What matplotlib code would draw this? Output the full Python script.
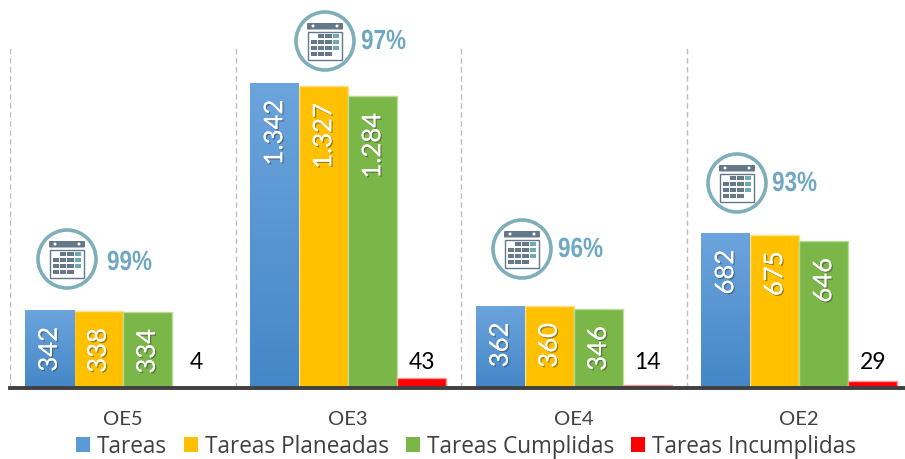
import matplotlib
matplotlib.use("Agg")
import matplotlib.pyplot as plt
import matplotlib.patheffects as pe
from matplotlib.patches import Circle, Rectangle, FancyBboxPatch
from matplotlib.transforms import Affine2D
import numpy as np

categories = ["OE5", "OE3", "OE4", "OE2"]
tareas = [342, 1342, 362, 682]
planeadas = [338, 1327, 360, 675]
cumplidas = [334, 1284, 346, 646]
incumplidas = [4, 43, 14, 29]
percent = ["99%", "97%", "96%", "93%"]
series_names = ["Tareas", "Tareas Planeadas", "Tareas Cumplidas", "Tareas Incumplidas"]
colors = ["#5B9BD5", "#FFC000", "#7AB648", "#FF0000"]

W, H = 905, 460
fig = plt.figure(figsize=(W / 100, H / 100), dpi=100)
L, R, T, B = 10, 905, 48, 389
ax = fig.add_axes([L / W, 1 - B / H, (R - L) / W, (B - T) / H])
group = 225.5
ax.set_xlim(-0.5, -0.5 + (R - L) / group)
ax.set_ylim(0, (B - T) / 0.2273)
x = np.arange(len(categories))
bw = 49 / group

def fmt(v):
    return f"{v:,}".replace(",", ".")

all_series = [tareas, planeadas, cumplidas, incumplidas]
for i, (vals, c) in enumerate(zip(all_series, colors)):
    pos = x + (i - 1.5) * bw
    if i == 0:
        for p, v in zip(pos, vals):
            bar = ax.bar(p, v, bw, color=c, zorder=2)[0]
            grad = np.linspace(0, 1, 128).reshape(-1, 1)
            cmap = matplotlib.colors.LinearSegmentedColormap.from_list("b", ["#4487C7", "#6CA4DD"])
            im = ax.imshow(grad, extent=(p - bw / 2, p + bw / 2, 0, v), origin="lower",
                           aspect="auto", cmap=cmap, zorder=3)
            im.set_clip_path(bar)
    else:
        edge = {1: "#FFE08A", 2: "#B9DA9B", 3: "#FF9A9A"}[i]
        ax.bar(pos, vals, bw, color=c, edgecolor=edge, linewidth=1, zorder=2)
    for p, v in zip(pos, vals):
        if i < 3:
            ax.annotate(fmt(v), (p, v), xytext=(0, -12), textcoords="offset points",
                        rotation=90, ha="center", va="top", color="white", fontsize=18.5,
                        family="Lato", zorder=5,
                        path_effects=[pe.withSimplePatchShadow(offset=(1, -1), shadow_rgbFace="#333333", alpha=0.45), pe.Normal()])
        else:
            ax.annotate(fmt(v), (p, 0), xytext=(0, 19), textcoords="offset points",
                        ha="center", va="center", color="black", fontsize=16.5, family="Lato", zorder=5)

ax.set_xticks(x)
ax.set_xticklabels(categories, fontsize=14.5, color="#404040", family="Lato")
ax.tick_params(axis="x", length=0, pad=16)
ax.set_yticks([])
for k in range(len(categories)):
    ax.axvline(k - 0.5, color="#BDBDBD", lw=1, ls=(0, (4, 2.5)), zorder=1)
for s in ["top", "left", "right"]:
    ax.spines[s].set_visible(False)
ax.spines["bottom"].set_color("#404040")
ax.spines["bottom"].set_linewidth(2.8)
ax.spines["bottom"].set_zorder(6)

# Calendar badges, on a pixel overlay
ov = fig.add_axes([0, 0, 1, 1], zorder=10)
ov.set_xlim(0, W)
ov.set_ylim(H, 0)
ov.axis("off")
ov.patch.set_alpha(0)
badges = [(67, 260, 40, 264), (325, 42, 36, 43), (522, 250, 36, 251), (737, 184, 35, 185)]
ring = "#7FAEBB"
slate = "#64788A"
teal = "#6FA9B4"


class Squeeze(pe.AbstractPathEffect):
    """Narrows glyph outlines horizontally about an anchor (condensed type)."""
    def __init__(self, x0, sx):
        super().__init__()
        self.x0, self.sx = x0, sx

    def draw_path(self, renderer, gc, tpath, affine, rgbFace=None):
        t = affine + Affine2D().translate(-self.x0, 0).scale(self.sx, 1).translate(self.x0, 0)
        renderer.draw_path(gc, tpath, t, rgbFace)


def calendar(cx, cy):
    ov.add_patch(Circle((cx, cy), 29, fc="white", ec=ring, lw=2.6))
    ov.add_patch(FancyBboxPatch((cx - 18, cy - 18), 36, 6.5, boxstyle="round,pad=0,rounding_size=1", fc=slate, ec="none"))
    ov.add_patch(Circle((cx - 12, cy - 15), 1.5, fc="white", ec="none"))
    ov.add_patch(Circle((cx + 12, cy - 15), 1.5, fc="white", ec="none"))
    ov.add_patch(Rectangle((cx - 17, cy - 9.5), 34, 28.5, fc="white", ec=slate, lw=1))
    cw, ch, stepx, stepy = 6.4, 4.2, 7.4, 6.0
    for r in range(4):
        for col in range(4):
            if (r == 0 and col == 0) or (r == 3 and col == 3):
                continue
            c = teal if col == 3 else slate
            ov.add_patch(Rectangle((cx - 14.5 + col * stepx, cy - 7.5 + r * stepy), cw, ch, fc=c, ec="none"))


for (cx, cy, dx, ty), txt in zip(badges, percent):
    calendar(cx, cy)
    x0 = ov.transData.transform((cx + dx, ty))[0]
    ov.text(cx + dx, ty, txt, color="#6FA8C2", fontsize=20, fontweight="bold",
            family="Liberation Sans", ha="left", va="center",
            path_effects=[Squeeze(x0, 0.81)])

handles = [Rectangle((0, 0), 1, 1, fc=c) for c in colors]
fig.legend(handles, series_names, ncol=4, loc="center", bbox_to_anchor=(466 / W, 1 - 447.5 / H),
           frameon=False, prop={"family": "Open Sans", "size": 16.3}, labelcolor="#404040",
           handlelength=0.61, handleheight=0.61, handletextpad=0.32, columnspacing=0.75,
           borderaxespad=0, borderpad=0)

fig.savefig("out.png", dpi=100)
